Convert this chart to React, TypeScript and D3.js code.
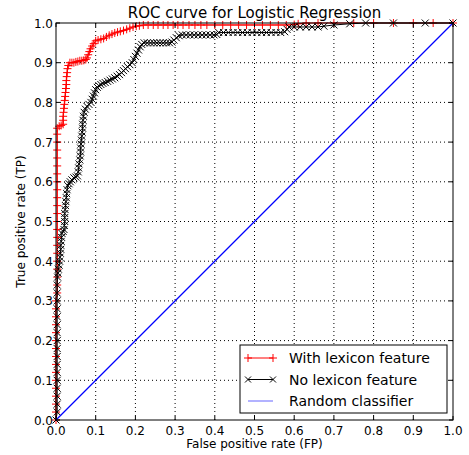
import React from "react";
import * as d3 from "d3";

// ROC points: [false positive rate, true positive rate]
const withLexicon: [number, number][] = [
  [0, 0], [0, 0.02], [0, 0.04], [0, 0.06], [0, 0.08], [0, 0.1], [0, 0.12],
  [0, 0.14], [0, 0.16], [0, 0.18], [0, 0.2], [0, 0.22], [0, 0.24], [0, 0.26],
  [0, 0.28], [0, 0.3], [0.003, 0.32], [0.003, 0.34], [0.003, 0.36],
  [0.003, 0.38], [0.003, 0.4], [0.003, 0.42], [0.003, 0.44], [0.003, 0.46],
  [0.003, 0.48], [0.003, 0.5], [0.003, 0.52], [0.003, 0.54], [0.003, 0.56],
  [0.003, 0.58], [0.003, 0.6], [0.003, 0.62], [0.003, 0.64], [0.003, 0.66],
  [0.003, 0.68], [0.003, 0.7], [0.003, 0.72], [0.003, 0.735], [0.008, 0.74],
  [0.013, 0.742], [0.018, 0.745], [0.018, 0.755], [0.018, 0.765],
  [0.019, 0.775], [0.02, 0.785], [0.021, 0.795], [0.022, 0.805],
  [0.023, 0.815], [0.024, 0.825], [0.025, 0.835], [0.026, 0.845],
  [0.026, 0.855], [0.027, 0.865], [0.028, 0.875], [0.029, 0.885],
  [0.031, 0.893], [0.035, 0.9], [0.04, 0.9], [0.045, 0.9], [0.05, 0.902],
  [0.055, 0.903], [0.06, 0.905], [0.065, 0.905], [0.07, 0.906], [0.075, 0.908],
  [0.078, 0.912], [0.081, 0.92], [0.084, 0.928], [0.087, 0.935],
  [0.091, 0.942], [0.095, 0.948], [0.1, 0.955], [0.106, 0.957],
  [0.113, 0.959], [0.12, 0.961], [0.127, 0.965], [0.134, 0.969],
  [0.141, 0.972], [0.148, 0.975], [0.155, 0.977], [0.162, 0.979],
  [0.17, 0.981], [0.178, 0.984], [0.186, 0.987], [0.194, 0.99],
  [0.202, 0.992], [0.21, 0.993], [0.22, 0.995], [0.232, 0.995],
  [0.245, 0.995], [0.257, 0.995], [0.27, 0.995], [0.282, 0.995],
  [0.295, 0.995], [0.307, 0.995], [0.32, 0.995], [0.335, 0.995],
  [0.35, 0.995], [0.365, 0.995], [0.38, 0.995], [0.4, 0.995], [0.42, 0.995],
  [0.44, 0.995], [0.46, 0.995], [0.48, 0.995], [0.5, 0.995], [0.52, 0.995],
  [0.54, 0.995], [0.56, 0.995], [0.58, 0.995], [0.6, 0.996], [0.61, 0.998],
  [0.63, 1], [0.66, 1], [0.7, 1], [0.75, 1], [0.8, 1], [0.85, 1], [0.9, 1],
  [0.95, 1], [1, 1],
];

const noLexicon: [number, number][] = [
  [0, 0], [0.003, 0.02], [0.003, 0.04], [0.003, 0.06], [0.003, 0.08],
  [0.003, 0.1], [0.003, 0.12], [0.003, 0.14], [0.003, 0.16], [0.003, 0.18],
  [0.003, 0.2], [0.003, 0.22], [0.003, 0.24], [0.003, 0.26], [0.003, 0.28],
  [0.003, 0.3], [0.003, 0.32], [0.003, 0.34], [0.004, 0.36], [0.005, 0.37],
  [0.006, 0.38], [0.008, 0.39], [0.009, 0.4], [0.01, 0.41], [0.011, 0.42],
  [0.012, 0.43], [0.012, 0.44], [0.013, 0.45], [0.014, 0.46], [0.015, 0.47],
  [0.018, 0.475], [0.02, 0.48], [0.021, 0.49], [0.022, 0.5], [0.022, 0.51],
  [0.022, 0.52], [0.023, 0.53], [0.024, 0.54], [0.025, 0.55], [0.026, 0.56],
  [0.027, 0.57], [0.028, 0.58], [0.03, 0.59], [0.033, 0.595], [0.036, 0.6],
  [0.04, 0.605], [0.045, 0.61], [0.05, 0.612], [0.054, 0.615], [0.056, 0.625],
  [0.057, 0.635], [0.058, 0.645], [0.06, 0.655], [0.061, 0.665],
  [0.062, 0.675], [0.062, 0.685], [0.063, 0.695], [0.064, 0.705],
  [0.065, 0.715], [0.066, 0.725], [0.067, 0.735], [0.067, 0.745],
  [0.068, 0.755], [0.069, 0.765], [0.071, 0.775], [0.074, 0.783],
  [0.078, 0.79], [0.083, 0.795], [0.088, 0.8], [0.091, 0.808], [0.094, 0.816],
  [0.097, 0.824], [0.1, 0.832], [0.104, 0.838], [0.108, 0.842], [0.113, 0.845],
  [0.118, 0.848], [0.124, 0.85], [0.13, 0.853], [0.136, 0.856], [0.142, 0.859],
  [0.148, 0.862], [0.154, 0.866], [0.16, 0.87], [0.165, 0.875], [0.17, 0.88],
  [0.175, 0.885], [0.18, 0.89], [0.186, 0.895], [0.192, 0.9], [0.196, 0.908],
  [0.2, 0.916], [0.204, 0.924], [0.208, 0.932], [0.212, 0.94], [0.216, 0.946],
  [0.222, 0.95], [0.23, 0.95], [0.238, 0.95], [0.246, 0.95], [0.254, 0.95],
  [0.262, 0.95], [0.27, 0.95], [0.278, 0.95], [0.286, 0.95], [0.292, 0.952],
  [0.297, 0.957], [0.303, 0.963], [0.31, 0.968], [0.318, 0.97], [0.328, 0.97],
  [0.338, 0.97], [0.348, 0.97], [0.358, 0.97], [0.368, 0.97], [0.378, 0.97],
  [0.388, 0.97], [0.398, 0.97], [0.405, 0.971], [0.41, 0.976], [0.422, 0.976],
  [0.434, 0.976], [0.446, 0.976], [0.458, 0.976], [0.47, 0.976],
  [0.482, 0.976], [0.494, 0.976], [0.506, 0.976], [0.518, 0.976],
  [0.53, 0.976], [0.542, 0.976], [0.554, 0.976], [0.566, 0.976],
  [0.576, 0.978], [0.582, 0.984], [0.587, 0.99], [0.6, 0.99], [0.615, 0.99],
  [0.63, 0.99], [0.645, 0.99], [0.66, 0.99], [0.675, 0.992], [0.7, 0.995],
  [0.74, 0.998], [0.78, 1], [0.85, 1], [0.93, 1], [1, 1],
];

const randomLine: [number, number][] = [[0, 0], [1, 1]];

const tickValues = [0, 0.1, 0.2, 0.3, 0.4, 0.5, 0.6, 0.7, 0.8, 0.9, 1.0];

const legendItems = [
  { label: "With lexicon feature", color: "#ff0000", marker: "plus" },
  { label: "No lexicon feature", color: "#000000", marker: "x" },
  { label: "Random classifier", color: "#0000ff", marker: "none" },
];

const font = "'DejaVu Sans', sans-serif";

const Plus = ({ x, y, s, c }: { x: number; y: number; s: number; c: string }) => (
  <path d={`M${x - s},${y}H${x + s}M${x},${y - s}V${y + s}`} stroke={c} strokeWidth={1} />
);

const Cross = ({ x, y, s, c }: { x: number; y: number; s: number; c: string }) => (
  <path
    d={`M${x - s},${y - s}L${x + s},${y + s}M${x - s},${y + s}L${x + s},${y - s}`}
    stroke={c}
    strokeWidth={1}
  />
);

export default function App() {
  const width = 469;
  const height = 455;
  const left = 56, right = 453, top = 23, bottom = 420;

  const x = d3.scaleLinear().domain([0, 1]).range([left, right]);
  const y = d3.scaleLinear().domain([0, 1]).range([bottom, top]);

  const line = d3
    .line<[number, number]>()
    .x((d) => x(d[0]))
    .y((d) => y(d[1]));

  const lx = 240, ly = 345, lw = 207, lh = 68;

  return (
    <svg
      width={width}
      height={height}
      style={{ position: "absolute", left: 0, top: 0, background: "#fff" }}
      fontFamily={font}
    >
      <rect x={0} y={0} width={width} height={height} fill="#fff" />

      {/* grid */}
      {tickValues.slice(1, -1).map((t) => (
        <g key={"g" + t}>
          <line x1={x(t)} x2={x(t)} y1={top} y2={bottom} stroke="#000" strokeWidth={1} strokeDasharray="1,3" />
          <line x1={left} x2={right} y1={y(t)} y2={y(t)} stroke="#000" strokeWidth={1} strokeDasharray="1,3" />
        </g>
      ))}

      <clipPath id="plotclip">
        <rect x={left - 6} y={top - 6} width={right - left + 12} height={bottom - top + 12} />
      </clipPath>

      <g clipPath="url(#plotclip)">
        <path d={line(withLexicon)!} fill="none" stroke="#ff0000" strokeWidth={1} />
        {withLexicon.map((d, i) => (
          <Plus key={"r" + i} x={x(d[0])} y={y(d[1])} s={4} c="#ff0000" />
        ))}
        <path d={line(noLexicon)!} fill="none" stroke="#000" strokeWidth={1} />
        {noLexicon.map((d, i) => (
          <Cross key={"b" + i} x={x(d[0])} y={y(d[1])} s={3.5} c="#000" />
        ))}
        <path d={line(randomLine)!} fill="none" stroke="#0000ff" strokeWidth={1.2} />
      </g>

      {/* frame */}
      <rect x={left} y={top} width={right - left} height={bottom - top} fill="none" stroke="#000" strokeWidth={1} />

      {/* ticks */}
      {tickValues.map((t) => (
        <g key={"t" + t}>
          <line x1={x(t)} x2={x(t)} y1={bottom} y2={bottom - 4} stroke="#000" />
          <line x1={x(t)} x2={x(t)} y1={top} y2={top + 4} stroke="#000" />
          <line x1={left} x2={left + 4} y1={y(t)} y2={y(t)} stroke="#000" />
          <line x1={right} x2={right - 4} y1={y(t)} y2={y(t)} stroke="#000" />
          <text x={x(t)} y={bottom + 15} fontSize={12} textAnchor="middle">
            {t.toFixed(1)}
          </text>
          <text x={left - 3} y={y(t) + 4.5} fontSize={12} textAnchor="end">
            {t.toFixed(1)}
          </text>
        </g>
      ))}

      {/* title and axis labels */}
      <text x={(left + right) / 2} y={18} fontSize={15} textAnchor="middle">
        ROC curve for Logistic Regression
      </text>
      <text x={(left + right) / 2} y={448} fontSize={12} textAnchor="middle">
        False positive rate (FP)
      </text>
      <text
        transform={`translate(25,${(top + bottom) / 2}) rotate(-90)`}
        fontSize={12}
        textAnchor="middle"
      >
        True positive rate (TP)
      </text>

      {/* legend */}
      <rect x={lx} y={ly} width={lw} height={lh} fill="#fff" stroke="#000" strokeWidth={1} />
      {legendItems.map((it, i) => {
        const cy = ly + 13 + i * 21.5;
        return (
          <g key={it.label}>
            <line x1={lx + 8} x2={lx + 33} y1={cy} y2={cy} stroke={it.color} strokeWidth={1} opacity={it.marker === "none" ? 0.6 : 1} />
            {it.marker === "plus" && (
              <>
                <Plus x={lx + 8} y={cy} s={4} c={it.color} />
                <Plus x={lx + 33} y={cy} s={4} c={it.color} />
              </>
            )}
            {it.marker === "x" && (
              <>
                <Cross x={lx + 8} y={cy} s={3} c={it.color} />
                <Cross x={lx + 33} y={cy} s={3} c={it.color} />
              </>
            )}
            <text x={lx + 49} y={cy + 5} fontSize={14}>
              {it.label}
            </text>
          </g>
        );
      })}
    </svg>
  );
}
